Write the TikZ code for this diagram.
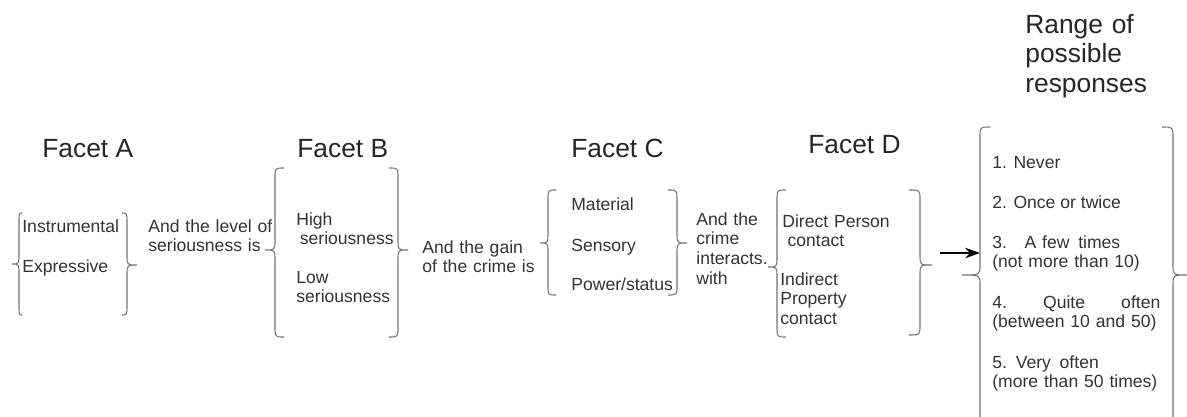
\documentclass[tikz,border=0pt]{standalone}
\usepackage{fontspec}
\setmainfont{Liberation Sans}
\usetikzlibrary{arrows.meta}
\def\sidebrace(#1,#2,#3)(#4,#5,#6){\draw[brc] (#1,#4) .. controls (#2,#4) .. (#2,#4+10) -- (#2,#6-10) .. controls (#2,#6) .. (#3,#6) .. controls (#2,#6) .. (#2,#6+10) -- (#2,#5-10) .. controls (#2,#5) .. (#1,#5);}
\tikzset{
	facet/.style={anchor=base west, inner sep=0pt, font=\fontsize{15}{17}\selectfont, text=black!85, align=left},
	lbl/.style={anchor=base west, inner sep=0pt, font=\fontsize{10}{11.2}\selectfont, text=black!80, align=left},
	wide/.style={text width=#1},
	brc/.style={draw=black!55, line width=0.6pt},
}
\begin{document}
\begin{tikzpicture}[x=0.02cm, y=-0.02cm]
			%%%%% START %%%%%
			
			\useasboundingbox (0,0) rectangle (1187,416);
			
			\node[facet] (facA) at (42,157) {Facet A};
			\node[facet] (facB) at (297,157) {Facet B};
			\node[facet] (facC) at (571,157) {Facet C};
			\node[facet] (facD) at (808,153) {Facet D};
			\node[facet, wide=3cm] (rng) at (1025,33) {Range of\\possible\\responses};
			
			\node[lbl] (aInst) at (22,232) {Instrumental};
			\node[lbl] (aExpr) at (22,272) {Expressive};
			\sidebrace(22,19,12)(213,315,264);
			\sidebrace(122,127,137)(213,315,265);
			
			\node[lbl, wide=3cm] (linkAB) at (148,232) {And the level of\\seriousness is};
			
			\node[lbl, wide=2.2cm] (bHigh) at (296,225) {High\\\hspace*{2pt}seriousness};
			\node[lbl, wide=2.2cm] (bLow) at (296,283) {Low\\seriousness};
			\sidebrace(284,275,265)(168,337,250);
			\sidebrace(389,398,408)(168,337,250);
			
			\node[lbl, wide=2.5cm] (linkBC) at (422,253) {And the gain\\of the crime is};
			
			\node[lbl] (cMat) at (571,210) {Material};
			\node[lbl] (cSens) at (571,251) {Sensory};
			\node[lbl] (cPow) at (571,290) {Power/status};
			\sidebrace(556,548,540)(190,295,243);
			\sidebrace(668,677,687)(190,295,243);
			
			\node[lbl, wide=1.6cm] (linkCD) at (696,225) {And the\\crime\\interacts.\\with};
			
			\node[lbl, wide=2.4cm] (dDir) at (782,227) {Direct Person\\\hspace*{3pt}contact};
			\node[lbl, wide=2cm] (dInd) at (780,285) {Indirect\\Property\\contact};
			\sidebrace(786,777,768)(190,337,267);
			\sidebrace(909,920,932)(190,335,265);
			
			\coordinate (dOut) at (940,253);
			\coordinate (rIn) at (980,253);
			\draw[-{Stealth[length=8.5pt,width=6pt]}, line width=0.8pt] (dOut) -- (rIn);
			
			\node[lbl] (r1) at (992,168) {1. Never};
			\node[lbl] (r2) at (992,208) {2. Once or twice};
			\node[lbl, wide=3.4cm] (r3) at (992,248) {3.\quad A few\enspace times\\(not more than 10)};
			\node[lbl, wide=3.36cm] (r4) at (992,308) {4.\hfill Quite\hfill often\\(between 10 and 50)};
			\node[lbl, wide=3.4cm] (r5) at (992,368) {5.\enspace Very\enspace often\\(more than 50 times)};
			\sidebrace(990,980,962)(127,425,275);
			\sidebrace(1162,1173,1187)(127,425,275);
			
			%%%%% END %%%%%
\end{tikzpicture}
\end{document}
